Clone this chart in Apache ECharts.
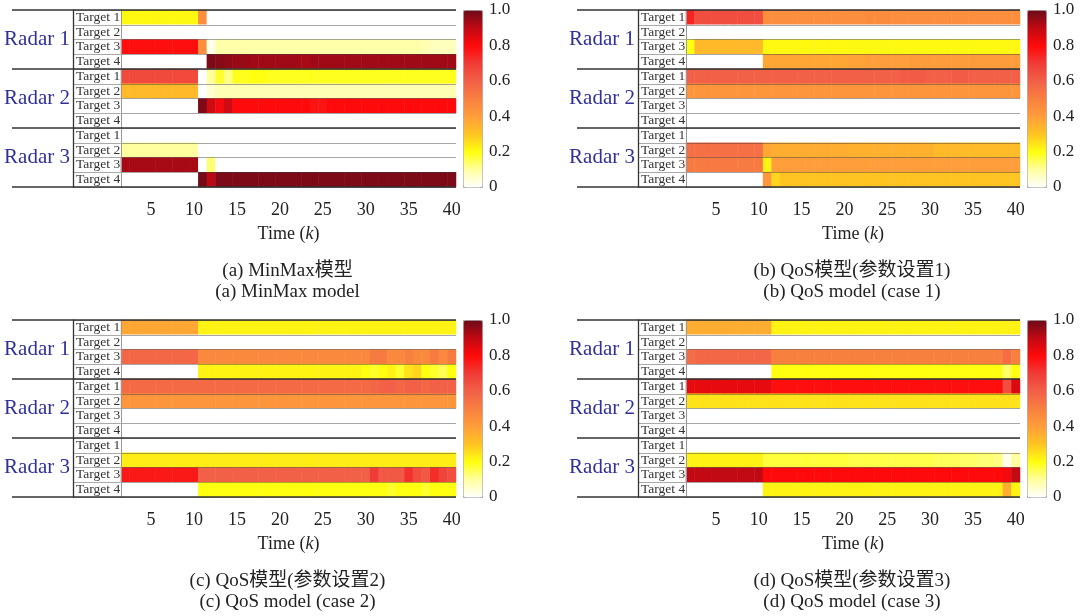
<!DOCTYPE html>
<html><head><meta charset="utf-8">
<script src="https://cdn.jsdelivr.net/npm/echarts/dist/echarts.min.js"></script>
<style>html,body{margin:0;padding:0;background:#fff}#c{width:1080px;height:616px}</style>
</head><body><div id="c"></div>
<script>
// ---- data ----
const timeSteps = ['2','3','4','5','6','7','8','9','10','11','12','13','14','15','16','17','18','19','20','21','22','23','24','25','26','27','28','29','30','31','32','33','34','35','36','37','38','39','40'];
const xTickLabels = ['5','10','15','20','25','30','35','40'];
const targetLabels = ['Target 1','Target 2','Target 3','Target 4','Target 1','Target 2','Target 3','Target 4','Target 1','Target 2','Target 3','Target 4'];
const radarLabels = ['Radar 1','Radar 2','Radar 3'];
const colorbarTicks = [0, 0.2, 0.4, 0.6, 0.8, 1.0];
const colorbarLabels = ['0', '0.2', '0.4', '0.6', '0.8', '1.0'];
const axisTitle = 'Time ({k|k})';
const captions = [
  '(a) MinMax模型\n(a) MinMax model',
  '(b) QoS模型(参数设置1)\n(b) QoS model (case 1)',
  '(c) QoS模型(参数设置2)\n(c) QoS model (case 2)',
  '(d) QoS模型(参数设置3)\n(d) QoS model (case 3)'
];
// rows: Radar1 T1..T4, Radar2 T1..T4, Radar3 T1..T4 ; columns k = 2..40
const minmaxModel = [
  [.21,.21,.21,.21,.21,.21,.21,.21,.21, .45, 0,0,0,0,0,0,0,0,0, 0,0,0,0,0,0,0,0,0,0, 0,0,0,0,0,0,0,0,0,0],
  [0,0,0,0,0,0,0,0,0, 0, 0,0,0,0,0,0,0,0,0, 0,0,0,0,0,0,0,0,0,0, 0,0,0,0,0,0,0,0,0,0],
  [.79,.79,.79,.79,.79,.79,.79,.79,.79, .45, .02,.09,.09,.09,.09,.09,.09,.09,.09, .09,.09,.09,.09,.09,.09,.09,.09,.09,.09, .09,.09,.09,.09,.09,.09,.08,.07,.07,.07],
  [0,0,0,0,0,0,0,0,0, 0, .98,.97,.96,.95,.95,.94,.94,.94,.94, .94,.94,.93,.94,.94,.94,.94,.94,.94,.94, .94,.94,.94,.94,.94,.94,.94,.94,.94,.94],
  [.66,.66,.66,.66,.66,.66,.66,.66,.66, 0, .1,.18,.12,.19,.19,.2,.2,.19,.19, .19,.19,.19,.19,.19,.19,.19,.19,.19,.19, .19,.19,.19,.19,.19,.19,.19,.19,.19,.19],
  [.33,.33,.33,.33,.33,.33,.33,.33,.33, 0, .05,.08,.08,.08,.08,.08,.08,.08,.08, .08,.08,.08,.08,.08,.08,.08,.08,.08,.08, .08,.08,.08,.08,.08,.08,.08,.08,.08,.08],
  [0,0,0,0,0,0,0,0,0, .98, .88,.82,.88,.8,.8,.8,.8,.8,.8, .8,.8,.8,.78,.78,.8,.8,.8,.8,.8, .8,.8,.8,.8,.8,.8,.8,.8,.8,.8],
  [0,0,0,0,0,0,0,0,0, 0, 0,0,0,0,0,0,0,0,0, 0,0,0,0,0,0,0,0,0,0, 0,0,0,0,0,0,0,0,0,0],
  [0,0,0,0,0,0,0,0,0, 0, 0,0,0,0,0,0,0,0,0, 0,0,0,0,0,0,0,0,0,0, 0,0,0,0,0,0,0,0,0,0],
  [.1,.1,.1,.1,.1,.1,.1,.1,.1, 0, 0,0,0,0,0,0,0,0,0, 0,0,0,0,0,0,0,0,0,0, 0,0,0,0,0,0,0,0,0,0],
  [.93,.93,.93,.93,.93,.93,.93,.93,.93, 0, .13,0,0,0,0,0,0,0,0, 0,0,0,0,0,0,0,0,0,0, 0,0,0,0,0,0,0,0,0,0],
  [0,0,0,0,0,0,0,0,0, .99, .91,.98,.98,.98,.98,.98,.98,.98,.98, .98,.98,.98,.98,.98,.98,.98,.98,.98,.98, .98,.98,.98,.98,.98,.98,.98,.98,.98,.98]
];
const qosCase1 = [
  [.75,.65,.65,.65,.65,.65,.65,.65,.65, .45, .45,.45,.45,.45,.45,.45,.45,.45,.45, .45,.45,.46,.46,.46,.45,.45,.45,.45,.45, .45,.45,.45,.45,.45,.45,.45,.45,.45,.45],
  [0,0,0,0,0,0,0,0,0, 0, 0,0,0,0,0,0,0,0,0, 0,0,0,0,0,0,0,0,0,0, 0,0,0,0,0,0,0,0,0,0],
  [.2,.33,.33,.33,.33,.33,.33,.33,.33, .21, .21,.21,.21,.21,.21,.21,.21,.21,.21, .21,.21,.21,.21,.21,.21,.21,.21,.21,.21, .21,.21,.21,.21,.21,.21,.21,.21,.21,.21],
  [0,0,0,0,0,0,0,0,0, .38, .38,.38,.38,.38,.38,.38,.38,.38,.38, .39,.39,.4,.4,.4,.4,.4,.41,.41,.41, .41,.41,.41,.41,.41,.41,.41,.41,.41,.41],
  [.6,.6,.6,.6,.6,.6,.6,.6,.6, .6, .6,.6,.6,.6,.6,.6,.6,.6,.6, .6,.6,.6,.6,.6,.6,.61,.61,.61,.6, .6,.6,.61,.61,.6,.6,.6,.6,.6,.6],
  [.43,.43,.43,.43,.43,.43,.43,.43,.43, .43, .43,.43,.43,.43,.43,.43,.43,.43,.43, .43,.43,.43,.43,.43,.43,.43,.43,.43,.43, .43,.43,.43,.43,.43,.43,.43,.43,.43,.43],
  [0,0,0,0,0,0,0,0,0, 0, 0,0,0,0,0,0,0,0,0, 0,0,0,0,0,0,0,0,0,0, 0,0,0,0,0,0,0,0,0,0],
  [0,0,0,0,0,0,0,0,0, 0, 0,0,0,0,0,0,0,0,0, 0,0,0,0,0,0,0,0,0,0, 0,0,0,0,0,0,0,0,0,0],
  [0,0,0,0,0,0,0,0,0, 0, 0,0,0,0,0,0,0,0,0, 0,0,0,0,0,0,0,0,0,0, 0,0,0,0,0,0,0,0,0,0],
  [.55,.55,.55,.55,.55,.55,.55,.55,.55, .38, .36,.36,.36,.36,.36,.36,.36,.36,.36, .35,.35,.35,.35,.35,.35,.35,.35,.35,.35, .33,.33,.33,.32,.32,.32,.32,.32,.32,.32],
  [.52,.52,.52,.52,.52,.52,.52,.52,.52, .22, .4,.4,.4,.4,.4,.4,.4,.4,.4, .4,.4,.4,.4,.4,.4,.4,.4,.4,.4, .4,.4,.4,.4,.4,.4,.4,.4,.4,.4],
  [0,0,0,0,0,0,0,0,0, .42, .27,.3,.3,.3,.3,.3,.3,.3,.3, .3,.3,.3,.3,.3,.3,.3,.3,.3,.3, .3,.3,.3,.3,.3,.3,.3,.3,.3,.3]
];
const qosCase2 = [
  [.38,.38,.38,.38,.38,.38,.38,.38,.38, .22, .22,.22,.22,.22,.22,.22,.22,.22,.22, .22,.22,.22,.22,.22,.22,.22,.22,.22,.22, .22,.22,.22,.22,.22,.22,.22,.22,.22,.22],
  [0,0,0,0,0,0,0,0,0, 0, 0,0,0,0,0,0,0,0,0, 0,0,0,0,0,0,0,0,0,0, 0,0,0,0,0,0,0,0,0,0],
  [.58,.58,.58,.58,.58,.58,.58,.58,.58, .47, .47,.47,.47,.47,.47,.47,.47,.47,.47, .47,.47,.47,.47,.47,.47,.47,.47,.47,.47, .52,.52,.47,.47,.5,.47,.47,.52,.47,.52],
  [0,0,0,0,0,0,0,0,0, .22, .22,.22,.22,.22,.22,.22,.22,.22,.22, .22,.22,.22,.22,.22,.22,.22,.22,.22,.2, .18,.2,.22,.18,.25,.27,.2,.18,.15,.2],
  [.57,.57,.57,.57,.57,.57,.57,.57,.57, .57, .57,.57,.57,.57,.57,.57,.57,.57,.57, .57,.57,.57,.57,.57,.57,.57,.57,.57,.57, .58,.6,.6,.58,.6,.6,.58,.6,.6,.6],
  [.43,.43,.43,.43,.43,.43,.43,.43,.43, .43, .43,.43,.43,.43,.43,.43,.43,.43,.43, .43,.43,.43,.43,.43,.43,.43,.43,.43,.43, .43,.43,.43,.43,.43,.43,.43,.43,.43,.43],
  [0,0,0,0,0,0,0,0,0, 0, 0,0,0,0,0,0,0,0,0, 0,0,0,0,0,0,0,0,0,0, 0,0,0,0,0,0,0,0,0,0],
  [0,0,0,0,0,0,0,0,0, 0, 0,0,0,0,0,0,0,0,0, 0,0,0,0,0,0,0,0,0,0, 0,0,0,0,0,0,0,0,0,0],
  [0,0,0,0,0,0,0,0,0, 0, 0,0,0,0,0,0,0,0,0, 0,0,0,0,0,0,0,0,0,0, 0,0,0,0,0,0,0,0,0,0],
  [.23,.23,.23,.23,.23,.23,.23,.23,.23, .23, .23,.23,.23,.23,.23,.23,.23,.23,.23, .23,.23,.23,.23,.23,.23,.23,.23,.23,.23, .23,.23,.23,.23,.23,.23,.23,.23,.23,.23],
  [.77,.77,.77,.77,.77,.77,.77,.77,.77, .6, .6,.6,.6,.6,.6,.6,.6,.6,.6, .6,.6,.6,.6,.6,.6,.6,.6,.6,.6, .7,.62,.62,.62,.72,.65,.62,.73,.68,.65],
  [0,0,0,0,0,0,0,0,0, .2, .2,.2,.2,.2,.2,.2,.2,.2,.2, .2,.2,.2,.2,.2,.2,.2,.2,.2,.2, .2,.2,.18,.2,.2,.2,.18,.2,.2,.2]
];
const qosCase3 = [
  [.36,.36,.36,.36,.36,.36,.36,.36,.36, .36, .22,.22,.22,.22,.22,.22,.22,.22,.22, .22,.22,.22,.22,.22,.22,.22,.22,.22,.22, .22,.22,.22,.22,.22,.22,.22,.22,.22,.22],
  [0,0,0,0,0,0,0,0,0, 0, 0,0,0,0,0,0,0,0,0, 0,0,0,0,0,0,0,0,0,0, 0,0,0,0,0,0,0,0,0,0],
  [.56,.58,.58,.58,.58,.58,.58,.58,.58, .58, .5,.5,.5,.5,.5,.5,.5,.5,.5, .5,.5,.5,.5,.5,.5,.5,.5,.5,.5, .5,.5,.5,.5,.5,.5,.5,.5,.56,.5],
  [0,0,0,0,0,0,0,0,0, 0, .2,.2,.2,.2,.2,.2,.2,.2,.2, .2,.2,.2,.2,.2,.2,.2,.2,.2,.2, .2,.2,.2,.2,.2,.2,.2,.2,.14,.2],
  [.84,.84,.84,.84,.84,.84,.84,.84,.84, .84, .79,.79,.79,.79,.79,.79,.79,.79,.79, .79,.79,.79,.79,.79,.79,.79,.79,.79,.79, .79,.79,.79,.79,.79,.79,.79,.79,.65,.86],
  [.25,.25,.25,.25,.25,.25,.25,.25,.25, .25, .25,.25,.25,.25,.25,.25,.25,.25,.25, .25,.25,.25,.25,.25,.25,.25,.25,.25,.25, .25,.25,.25,.25,.25,.25,.25,.25,.25,.25],
  [0,0,0,0,0,0,0,0,0, 0, 0,0,0,0,0,0,0,0,0, 0,0,0,0,0,0,0,0,0,0, 0,0,0,0,0,0,0,0,0,0],
  [0,0,0,0,0,0,0,0,0, 0, 0,0,0,0,0,0,0,0,0, 0,0,0,0,0,0,0,0,0,0, 0,0,0,0,0,0,0,0,0,0],
  [0,0,0,0,0,0,0,0,0, 0, 0,0,0,0,0,0,0,0,0, 0,0,0,0,0,0,0,0,0,0, 0,0,0,0,0,0,0,0,0,0],
  [.22,.22,.22,.22,.22,.22,.22,.22,.22, .17, .17,.17,.17,.17,.17,.17,.17,.17,.17, .16,.16,.16,.16,.16,.16,.16,.16,.16,.16, .15,.15,.15,.14,.14,.13,.13,.12,.02,.1],
  [.9,.9,.9,.9,.9,.9,.9,.9,.9, .8, .8,.8,.8,.8,.8,.8,.8,.8,.8, .8,.8,.8,.8,.8,.8,.8,.8,.8,.8, .8,.8,.8,.8,.8,.8,.8,.8,.82,.9],
  [0,0,0,0,0,0,0,0,0, .22, .22,.22,.22,.22,.22,.22,.22,.22,.22, .22,.22,.22,.22,.22,.22,.22,.22,.22,.22, .22,.22,.22,.22,.22,.22,.22,.22,.36,.22]
];

// ---- style / layout ----
const colorScale = ['#ffffff','#ffffa0','#ffff10','#ffc422','#ff9e3a','#f8803f','#f26048','#f03c36','#ff0a0a','#c20a14','#6c0a18'];
const FONT = "'Liberation Serif','Noto Sans CJK SC',serif";
const H = 177;
const panels = [
  {values: minmaxModel, hx:121, hw:335, lx:73,  rx:12,  cbx:463,  top:10},
  {values: qosCase1,    hx:686, hw:334, lx:638, rx:577, cbx:1027, top:10},
  {values: qosCase2,    hx:121, hw:335, lx:73,  rx:12,  cbx:463,  top:320},
  {values: qosCase3,    hx:686, hw:334, lx:638, rx:577, cbx:1027, top:320}
];
const showTick = (i, v) => xTickLabels.indexOf(String(v)) >= 0;
const grid = [], xAxis = [], yAxis = [], series = [], visualMap = [], title = [];

panels.forEach((p, i) => {
  const g = grid.length;
  grid.push({left:p.hx, top:p.top, width:p.hw, height:H, outerBoundsMode:'none'});
  grid.push({left:p.lx, top:p.top, width:p.hx - p.lx, height:H, outerBoundsMode:'none'});
  grid.push({left:p.rx, top:p.top, width:p.hx + p.hw - p.rx, height:H, outerBoundsMode:'none'});
  grid.push({left:p.cbx, top:p.top, width:19, height:H, outerBoundsMode:'none'});

  const xa = xAxis.length;
  const tickStyle = {show:true, inside:true, length:3, alignWithLabel:true, interval:showTick, lineStyle:{color:'#999'}};
  xAxis.push({gridIndex:g, type:'category', data:timeSteps, position:'bottom',
    axisLine:{show:false}, axisTick:tickStyle,
    axisLabel:{interval:showTick, fontFamily:FONT, fontSize:18, color:'#222', margin:14},
    splitLine:{show:false},
    name:axisTitle, nameLocation:'middle', nameGap:38,
    nameTextStyle:{fontFamily:FONT, fontSize:18, color:'#222',
      rich:{k:{fontFamily:FONT, fontSize:18, fontStyle:'italic', color:'#222'}}}});
  xAxis.push({gridIndex:g, type:'category', data:timeSteps, position:'top',
    axisLine:{show:false}, axisTick:tickStyle, axisLabel:{show:false}, splitLine:{show:false}});
  xAxis.push({gridIndex:g+1, type:'value', show:false});
  xAxis.push({gridIndex:g+2, type:'value', show:false});
  xAxis.push({gridIndex:g+3, type:'value', show:false});

  const ya = yAxis.length;
  yAxis.push({gridIndex:g, type:'category', data:targetLabels, inverse:true, z:3,
    axisLine:{show:true, lineStyle:{color:'#999', width:1}}, axisTick:{show:false},
    axisLabel:{show:false},
    splitLine:{show:true, interval:0, lineStyle:{color:'rgba(60,60,60,0.45)', width:1}}});
  yAxis.push({gridIndex:g+1, type:'category', data:targetLabels, inverse:true,
    axisLine:{show:true, lineStyle:{color:'#333', width:1.3}}, axisTick:{show:false},
    axisLabel:{inside:true, interval:0, margin:3, fontFamily:FONT, fontSize:13.5, color:'#333'},
    splitLine:{show:true, interval:0, lineStyle:{color:'#aaa', width:1}}});
  yAxis.push({gridIndex:g+2, type:'category', data:radarLabels, inverse:true, z:4,
    offset:-(p.lx - p.rx),
    axisLine:{show:false}, axisTick:{show:false},
    axisLabel:{interval:0, margin:3, fontFamily:FONT, fontSize:21, color:'#30309a'},
    splitLine:{show:true, interval:0, lineStyle:{color:'#333', width:1.5}}});
  yAxis.push({gridIndex:g+3, type:'value', min:0, max:1, interval:0.2, position:'right',
    axisLine:{show:false}, axisTick:{show:false}, splitLine:{show:false},
    axisLabel:{margin:7, fontFamily:FONT, fontSize:17, color:'#222',
      formatter: v => { const k = colorbarTicks.findIndex(t => Math.abs(t - v) < 1e-6); return k >= 0 ? colorbarLabels[k] : ''; }}});

  const data = [];
  p.values.forEach((row, r) => row.forEach((v, c) => data.push([c, r, v])));
  series.push({type:'heatmap', xAxisIndex:xa, yAxisIndex:ya, data:data,
    progressive:0, emphasis:{disabled:true}, itemStyle:{borderWidth:0}});

  visualMap.push({type:'continuous', seriesIndex:i, min:0, max:1,
    left:p.cbx, top:p.top, itemWidth:19, itemHeight:H, padding:0,
    calculable:false, hoverLink:false, borderColor:'#aaa', borderWidth:1,
    inRange:{color:colorScale}});

  title.push({text:captions[i], left:p.hx + p.hw / 2 - 1, top:p.top + H + 74, textAlign:'center', padding:0,
    textStyle:{fontFamily:FONT, fontSize:19, fontWeight:'normal', color:'#222', lineHeight:21}});
});

const chart = echarts.init(document.getElementById('c'));
chart.setOption({backgroundColor:'#fff', animation:false, grid, xAxis, yAxis, series, visualMap, title});
</script></body></html>
